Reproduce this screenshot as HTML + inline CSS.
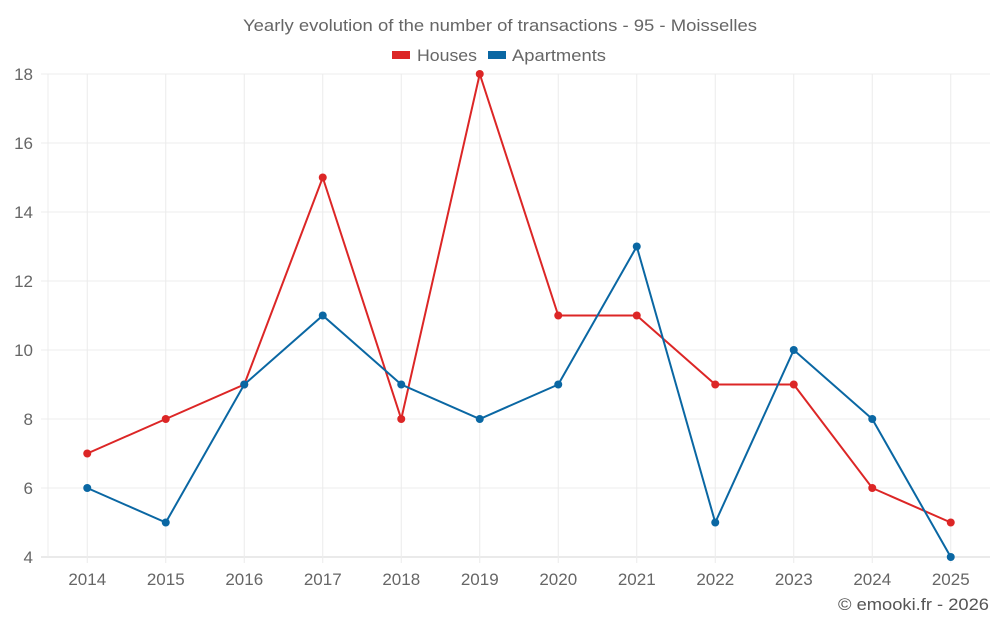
<!DOCTYPE html>
<html><head><meta charset="utf-8">
<style>
html,body{margin:0;padding:0;background:#fff;}
svg{display:block;font-family:"Liberation Sans",sans-serif;}
</style></head>
<body>
<svg id="chart" width="1000" height="625">
<text x="243" y="31" font-size="17" fill="#666" textLength="514" lengthAdjust="spacingAndGlyphs">Yearly evolution of the number of transactions - 95 - Moisselles</text>
<g>
<g><rect x="392" y="51" width="18" height="8" fill="#dc2626"/><text x="417" y="61" font-size="17" fill="#666" textLength="60" lengthAdjust="spacingAndGlyphs">Houses</text></g>
<g><rect x="488" y="51" width="18" height="8" fill="#0a67a3"/><text x="512" y="61" font-size="17" fill="#666" textLength="94" lengthAdjust="spacingAndGlyphs">Apartments</text></g>
</g>
<g id="grid"></g><g id="axes"></g><g id="series"></g>
<text x="838" y="610" font-size="17" fill="#555" textLength="151" lengthAdjust="spacingAndGlyphs">© emooki.fr - 2026</text>
</svg>
<script>
const years=["2014","2015","2016","2017","2018","2019","2020","2021","2022","2023","2024","2025"];
const houses=[7,8,9,15,8,18,11,11,9,9,6,5];
const apartments=[6,5,9,11,9,8,9,13,5,10,8,4];
const yTicks=[4,6,8,10,12,14,16,18];
const NS="http://www.w3.org/2000/svg";
const L=48,R=990,T=74,B=557,yMin=4,yMax=18;
const bw=(R-L)/years.length;
function xs(i){return L+bw*(i+0.5);}
function ys(v){return B-(v-yMin)/(yMax-yMin)*(B-T);}
function mk(tag,attrs,parent){const e=document.createElementNS(NS,tag);for(const k in attrs)e.setAttribute(k,attrs[k]);parent.appendChild(e);return e;}
const grid=document.getElementById('grid'),axes=document.getElementById('axes'),ser=document.getElementById('series');
yTicks.forEach(v=>{
 const l=mk('line',{x1:41,x2:R,y1:ys(v),y2:ys(v),stroke:v===yMin?'#d6d6d6':'#ececec','stroke-width':1},grid);
 
 
 const t=mk('text',{x:33,y:ys(v)+6,'text-anchor':'end','font-size':17,fill:'#666'},axes);
 t.textContent=v;
 
 
});
mk('line',{x1:L,x2:L,y1:T,y2:B,stroke:'#ececec'},grid);
years.forEach((y,i)=>{
 const l=mk('line',{x1:xs(i),x2:xs(i),y1:T,y2:B+6,stroke:'#ececec'},grid);
 
 
 const t=mk('text',{x:xs(i),y:585,'text-anchor':'middle','font-size':17,fill:'#666'},axes);
 t.textContent=y;
 
 
});
function draw(data,color,name){
 const p=mk('polyline',{points:data.map((v,i)=>xs(i)+','+ys(v)).join(' '),fill:'none',stroke:color,'stroke-width':2},ser);
 
 
 data.forEach((v,i)=>{
  const c=mk('circle',{cx:xs(i),cy:ys(v),r:4,fill:color},ser);
  
  
 });
}
draw(houses,'#dc2626','houses');
draw(apartments,'#0a67a3','apartments');
</script>
</body></html>
